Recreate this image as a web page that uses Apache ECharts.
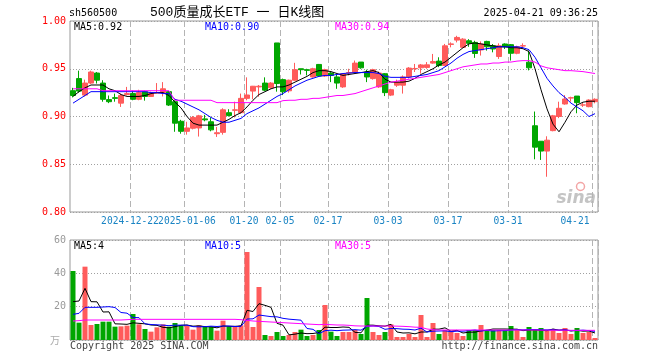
<!DOCTYPE html>
<html><head><meta charset="utf-8">
<script src="https://cdn.jsdelivr.net/npm/echarts/dist/echarts.min.js"></script>
<style>html,body{margin:0;padding:0;background:#fff}#c{width:660px;height:360px}</style>
</head><body><div id="c"></div>
<script>
const dates = ['2024-12-09','2024-12-10','2024-12-11','2024-12-12','2024-12-13','2024-12-16','2024-12-17','2024-12-18','2024-12-19','2024-12-20',
'2024-12-23','2024-12-24','2024-12-25','2024-12-26','2024-12-27','2024-12-30','2024-12-31','2025-01-02','2025-01-03','2025-01-06',
'2025-01-07','2025-01-08','2025-01-09','2025-01-10','2025-01-13','2025-01-14','2025-01-15','2025-01-16','2025-01-17','2025-01-20',
'2025-01-21','2025-01-22','2025-01-23','2025-01-24','2025-01-27','2025-02-05','2025-02-06','2025-02-07','2025-02-10','2025-02-11',
'2025-02-12','2025-02-13','2025-02-14','2025-02-17','2025-02-18','2025-02-19','2025-02-20','2025-02-21','2025-02-24','2025-02-25',
'2025-02-26','2025-02-27','2025-02-28','2025-03-03','2025-03-04','2025-03-05','2025-03-06','2025-03-07','2025-03-10','2025-03-11',
'2025-03-12','2025-03-13','2025-03-14','2025-03-17','2025-03-18','2025-03-19','2025-03-20','2025-03-21','2025-03-24','2025-03-25',
'2025-03-26','2025-03-27','2025-03-28','2025-03-31','2025-04-01','2025-04-02','2025-04-03','2025-04-07','2025-04-08','2025-04-09',
'2025-04-10','2025-04-11','2025-04-14','2025-04-15','2025-04-16','2025-04-17','2025-04-18','2025-04-21'];

const opens = [0.927,0.9397,0.9224,0.935,0.9455,0.935,0.9177,0.9197,0.914,0.923,
0.924,0.918,0.926,0.921,0.9245,0.925,0.926,0.9155,0.895,0.8845,
0.8877,0.888,0.8975,0.8945,0.882,0.8834,0.904,0.9065,0.904,0.919,
0.9266,0.931,0.935,0.930,0.977,0.9386,0.9269,0.938,0.950,0.949,
0.9414,0.9545,0.9424,0.9455,0.9414,0.931,0.9455,0.9459,0.957,0.9466,
0.9397,0.931,0.9448,0.9224,0.9328,0.9328,0.9414,0.950,0.951,0.9514,
0.9559,0.958,0.9534,0.9755,0.980,0.9724,0.9793,0.9776,0.9697,0.9786,
0.9741,0.9628,0.9759,0.9752,0.9662,0.9738,0.9569,0.8903,0.8741,0.8638,
0.8852,0.900,0.9131,0.9193,0.9214,0.912,0.9103,0.9155];
const closes = [0.922,0.9266,0.935,0.9466,0.938,0.918,0.9155,0.919,0.922,0.924,
0.918,0.925,0.921,0.925,0.925,0.929,0.912,0.893,0.8845,0.888,
0.899,0.9007,0.8965,0.886,0.883,0.907,0.901,0.907,0.919,0.9225,
0.9317,0.9317,0.9276,0.935,0.9345,0.9259,0.938,0.949,0.949,0.9483,
0.950,0.9424,0.949,0.943,0.935,0.9448,0.946,0.9559,0.951,0.9414,
0.949,0.9455,0.925,0.928,0.936,0.9414,0.9507,0.9503,0.954,0.9541,
0.9576,0.9534,0.974,0.976,0.9828,0.981,0.9766,0.966,0.9759,0.973,
0.9707,0.9741,0.973,0.9662,0.9731,0.9741,0.951,0.8679,0.8638,0.8752,
0.9007,0.9086,0.9183,0.9197,0.9145,0.9121,0.9172,0.918];
const highs = [0.930,0.948,0.9386,0.948,0.9466,0.938,0.922,0.924,0.924,0.931,
0.927,0.928,0.927,0.926,0.935,0.936,0.9265,0.917,0.8965,0.8945,
0.9005,0.9017,0.9017,0.899,0.889,0.9086,0.9076,0.9155,0.924,0.941,
0.932,0.933,0.941,0.936,0.977,0.9397,0.9386,0.9562,0.950,0.950,
0.951,0.955,0.950,0.9466,0.9448,0.9455,0.950,0.9586,0.957,0.949,
0.950,0.947,0.9455,0.929,0.9386,0.943,0.9517,0.955,0.955,0.957,
0.9655,0.962,0.976,0.9776,0.9845,0.982,0.981,0.9793,0.9786,0.9793,
0.9759,0.9766,0.9766,0.9759,0.9741,0.9766,0.969,0.9052,0.8741,0.8793,
0.9017,0.9155,0.9224,0.9207,0.9214,0.9145,0.918,0.919];
const lows = [0.920,0.925,0.921,0.934,0.9345,0.9155,0.914,0.9155,0.910,0.922,
0.917,0.917,0.9166,0.9205,0.924,0.921,0.911,0.884,0.882,0.881,
0.8865,0.879,0.895,0.8845,0.8786,0.881,0.900,0.899,0.903,0.917,
0.918,0.9207,0.9266,0.929,0.926,0.9224,0.925,0.9373,0.944,0.943,
0.9407,0.9414,0.9414,0.936,0.929,0.930,0.943,0.9448,0.950,0.936,
0.9386,0.930,0.9214,0.9214,0.931,0.924,0.9397,0.9466,0.945,0.950,
0.9552,0.9517,0.9528,0.9724,0.9776,0.9717,0.973,0.9614,0.9638,0.969,
0.9672,0.9603,0.9707,0.9586,0.9652,0.9717,0.9483,0.8552,0.8545,0.8369,
0.8845,0.8983,0.9124,0.9155,0.9034,0.910,0.9097,0.9138];

const volumes = [41.4,10.4,44,9,9.6,11,11,8,8.2,8.6,
15.6,9.4,6.6,5,7.6,9.4,8,10.2,8.6,8.6,
6.2,8.8,8,8,5.6,11.6,8,8,8.8,52.8,
7.8,31.8,3,2.4,4.8,2.4,3,4.8,6.2,2.4,
3,6,21,5,2.4,4.8,4.8,6,3.6,25.2,
4.8,3,4.8,9.4,1.8,1.8,3.6,1.8,15,1.8,
10.2,3.6,6,4.8,4.2,2.4,6,6,9,6,
6,6,6,8.4,6,1.8,7.8,6,7.2,5.4,
6.6,4.2,7.2,3.6,7.2,4.2,4.8,1.2];

const ma5 = [0.921,0.926,0.930,0.933,0.933,0.933,0.929,0.927,0.923,0.921,
0.921,0.921,0.922,0.924,0.925,0.925,0.922,0.915,0.909,0.900,
0.893,0.891,0.891,0.891,0.891,0.894,0.897,0.901,0.904,0.910,
0.917,0.923,0.926,0.929,0.931,0.931,0.933,0.936,0.939,0.942,
0.946,0.948,0.948,0.947,0.945,0.943,0.944,0.945,0.946,0.947,
0.948,0.946,0.939,0.936,0.936,0.936,0.937,0.940,0.944,0.947,
0.950,0.954,0.957,0.962,0.967,0.972,0.976,0.977,0.976,0.975,
0.974,0.973,0.973,0.972,0.972,0.971,0.968,0.950,0.928,0.908,
0.892,0.884,0.894,0.905,0.912,0.915,0.916,0.916];
const ma10 = [0.914,0.918,0.922,0.926,0.926,0.926,0.926,0.926,0.926,0.926,
0.926,0.926,0.926,0.925,0.925,0.924,0.924,0.918,0.916,0.913,
0.910,0.907,0.903,0.899,0.896,0.894,0.894,0.896,0.898,0.903,
0.906,0.909,0.913,0.917,0.921,0.924,0.928,0.932,0.935,0.938,
0.940,0.942,0.943,0.943,0.944,0.945,0.9455,0.946,0.946,0.946,
0.946,0.945,0.942,0.941,0.941,0.941,0.941,0.942,0.943,0.944,
0.946,0.948,0.952,0.956,0.961,0.965,0.968,0.969,0.970,0.971,
0.972,0.973,0.973,0.973,0.973,0.972,0.970,0.962,0.951,0.940,
0.932,0.925,0.920,0.914,0.910,0.906,0.900,0.903];
const ma30 = [0.929,0.929,0.929,0.929,0.929,0.927,0.927,0.927,0.927,0.927,
0.927,0.927,0.927,0.927,0.927,0.927,0.927,0.917,0.917,0.917,
0.917,0.917,0.917,0.917,0.9145,0.9145,0.9145,0.9145,0.9145,0.9145,
0.9145,0.9145,0.9145,0.9145,0.9145,0.9166,0.917,0.917,0.918,0.918,
0.919,0.919,0.920,0.921,0.922,0.922,0.923,0.924,0.926,0.928,
0.930,0.932,0.934,0.936,0.937,0.938,0.939,0.940,0.941,0.942,
0.943,0.944,0.946,0.948,0.950,0.952,0.953,0.954,0.955,0.955,
0.956,0.956,0.957,0.957,0.958,0.9585,0.9585,0.957,0.953,0.951,
0.950,0.949,0.948,0.948,0.9475,0.947,0.946,0.945];

const vma5 = [23,23.4,31,23,22.9,16.8,16.9,9.7,9.6,9.4,
10.3,10.0,9.7,9.0,8.8,7.6,7.3,8.0,8.8,9.0,
8.3,8.5,8.0,7.9,7.3,8.4,8.2,8.2,8.4,17.8,
17.1,21.8,20.8,19.6,10.0,8.9,3.1,3.5,4.2,3.8,
3.9,4.5,7.7,7.5,7.5,7.8,7.6,4.6,4.3,8.9,
8.9,8.5,8.3,9.4,4.8,4.2,4.3,3.7,4.8,4.8,
6.5,6.5,7.3,5.3,5.8,4.2,4.7,4.7,5.5,5.9,
6.6,6.6,6.6,6.5,6.5,5.6,6.0,6.0,5.8,5.6,
6.6,5.9,6.1,5.4,5.8,5.3,5.4,4.2];
const vma10 = [15.4,16,19.6,19.6,19.6,19.8,20,19.5,16.5,16.1,
13.5,13.4,9.7,9.3,9.1,8.9,8.6,8.9,8.9,8.9,
8.0,7.9,8.0,8.3,8.1,8.4,8.4,8.1,8.2,12.6,
12.7,15.0,14.5,14.0,13.9,13.0,12.5,12.2,11.9,6.9,
6.4,3.8,5.6,5.9,5.6,5.9,6.0,6.2,5.9,8.2,
8.4,8.1,6.4,6.9,6.8,6.5,6.4,6.0,7.1,4.8,
5.3,5.4,5.5,5.0,5.3,5.3,5.6,6.0,5.4,5.8,
5.4,5.6,5.6,6.0,6.2,6.1,6.3,6.3,6.1,6.1,
6.1,5.9,6.1,5.6,5.7,5.9,5.6,5.2];
const vma30 = [11.4,11.6,12,12,12,12,12,12,12,12.2,
12.4,12.4,12.4,12.4,12.4,12.4,12.4,12.4,12.4,12.4,
12.4,12.4,12.4,12.4,12.4,12.4,12.4,12.4,12.2,11.8,
11.4,11.2,11,10.8,10.6,10.4,10.2,10,9.8,9.6,
9.4,9.2,9.4,9.2,9.0,9.0,8.8,8.5,8.4,8.4,
8.4,8.4,8.4,8.4,8.3,8.2,8.0,7.7,7.6,6.6,
6.2,6.0,6.0,6.0,6.0,6.0,6.0,6.0,6.0,6.0,
6.0,6.0,6.0,6.0,6.0,6.0,6.0,6.0,5.9,5.9,
5.9,5.9,5.9,5.8,5.8,5.8,5.8,5.8];

const tickIdx = [10,19,29,35,43,53,63,73,87];
const tickText = ['2024-12-22','2025-01-06','01-20','02-05','02-17','03-03','03-17','03-31','04-21'];
const priceTicks = [0.80,0.85,0.90,0.95,1.00];
const volTicks = [0,20,40,60];

const UP = '#ff5b5b', DOWN = '#00a600';
const MONO = '"DejaVu Sans Mono", monospace';

const kData = opens.map((o, i) => [o, closes[i], lows[i], highs[i]]);
const vData = volumes.map((v, i) => ({value: v, itemStyle: {color: closes[i] >= opens[i] ? UP : DOWN}}));

const isTick = (i) => tickIdx.indexOf(i) >= 0;
const chart = echarts.init(document.getElementById('c'), null, {renderer: 'canvas'});

const xCommon = {
  type: 'category', data: dates, boundaryGap: true,
  axisLine: {show: false}, axisTick: {show: false},
  splitLine: {show: true, interval: (i) => isTick(i), lineStyle: {color: '#b4b4b4', type: [6, 3], width: 1}}
};

const labStyle = {color: '#1a84c4', fontFamily: MONO, fontSize: 9.6};

chart.setOption({
  animation: false,
  backgroundColor: '#fff',
  grid: [
    {left: 70, right: 62, top: 21, height: 191, show: true, borderColor: '#999', borderWidth: 1, backgroundColor: 'transparent'},
    {left: 70, right: 62, top: 240, height: 100, show: true, borderColor: '#999', borderWidth: 1, backgroundColor: 'transparent'}
  ],
  xAxis: [
    Object.assign({}, xCommon, {gridIndex: 0,
      axisLabel: {show: true, interval: (i) => i === 0 || isTick(i), margin: 4, hideOverlap: false,
        showMinLabel: true, showMaxLabel: true,
        formatter: (v, i) => {
          const k = tickIdx.indexOf(i);
          if (k < 0) return ' ';
          const tag = k === tickIdx.length - 1 ? 'r' : (k === 1 ? 'n' : 'c');
          return '{' + tag + '|' + tickText[k] + '}';
        },
        rich: {
          c: Object.assign({padding: [0, 6, 0, 0]}, labStyle),
          n: Object.assign({}, labStyle),
          r: Object.assign({padding: [0, 40, 0, 0]}, labStyle)
        },
        color: labStyle.color, fontFamily: MONO, fontSize: 9.6}}),
    Object.assign({}, xCommon, {gridIndex: 1, axisLabel: {show: false}})
  ],
  yAxis: [
    {gridIndex: 0, type: 'value', min: priceTicks[0], max: priceTicks[priceTicks.length - 1], interval: 0.05,
      axisLine: {show: false}, axisTick: {show: false},
      axisLabel: {color: '#ff0000', fontFamily: MONO, fontSize: 10, margin: 4, showMinLabel: true, showMaxLabel: true, formatter: (v) => v.toFixed(2)},
      splitLine: {show: true, lineStyle: {color: '#a0a0a0', type: [1, 2], width: 1}}},
    {gridIndex: 1, type: 'value', min: volTicks[0], max: volTicks[volTicks.length - 1], interval: 20,
      axisLine: {show: false}, axisTick: {show: false},
      axisLabel: {color: '#999', fontFamily: MONO, fontSize: 10, margin: 4, formatter: (v) => v === 0 ? '' : String(v)},
      splitLine: {show: true, lineStyle: {color: '#a0a0a0', type: [1, 2], width: 1}}}
  ],
  series: [
    {type: 'candlestick', xAxisIndex: 0, yAxisIndex: 0, data: kData, barWidth: 5,
      itemStyle: {color: UP, color0: DOWN, borderColor: UP, borderColor0: DOWN, borderWidth: 1}},
    {type: 'line', xAxisIndex: 0, yAxisIndex: 0, data: ma5, symbol: 'none', lineStyle: {color: '#000', width: 1}},
    {type: 'line', xAxisIndex: 0, yAxisIndex: 0, data: ma10, symbol: 'none', lineStyle: {color: '#0000ff', width: 1}},
    {type: 'line', xAxisIndex: 0, yAxisIndex: 0, data: ma30, symbol: 'none', lineStyle: {color: '#ff00ff', width: 1}},
    {type: 'bar', xAxisIndex: 1, yAxisIndex: 1, data: vData, barWidth: 5},
    {type: 'line', xAxisIndex: 1, yAxisIndex: 1, data: vma5, symbol: 'none', lineStyle: {color: '#000', width: 1}},
    {type: 'line', xAxisIndex: 1, yAxisIndex: 1, data: vma10, symbol: 'none', lineStyle: {color: '#0000ff', width: 1}},
    {type: 'line', xAxisIndex: 1, yAxisIndex: 1, data: vma30, symbol: 'none', lineStyle: {color: '#ff00ff', width: 1}}
  ],
  graphic: [
    {type: 'text', left: 69, top: 8, style: {text: 'sh560500', font: '10px ' + MONO, fill: '#000'}},
    {type: 'text', left: 150, top: 6, style: {text: '500质量成长ETF 一 日K线图', font: '13px "Liberation Mono", "Noto Sans CJK SC"', fill: '#000'}},
    {type: 'text', right: 62, top: 8, style: {text: '2025-04-21 09:36:25', font: '10px ' + MONO, fill: '#000'}},
    {type: 'text', left: 74, top: 22, style: {text: 'MA5:0.92', font: '10px ' + MONO, fill: '#000'}},
    {type: 'text', left: 205, top: 22, style: {text: 'MA10:0.90', font: '10px ' + MONO, fill: '#0000ff'}},
    {type: 'text', left: 335, top: 22, style: {text: 'MA30:0.94', font: '10px ' + MONO, fill: '#ff00ff'}},
    {type: 'text', left: 74, top: 241, style: {text: 'MA5:4', font: '10px ' + MONO, fill: '#000'}},
    {type: 'text', left: 205, top: 241, style: {text: 'MA10:5', font: '10px ' + MONO, fill: '#0000ff'}},
    {type: 'text', left: 335, top: 241, style: {text: 'MA30:5', font: '10px ' + MONO, fill: '#ff00ff'}},
    {type: 'text', left: 50, top: 335, style: {text: '万', font: '10px "Noto Sans CJK SC"', fill: '#aaa'}},
    {type: 'text', left: 70, top: 341, style: {text: 'Copyright 2025 SINA.COM', font: '10px ' + MONO, fill: '#444'}},
    {type: 'text', right: 62, top: 341, style: {text: 'http://finance.sina.com.cn', font: '10px ' + MONO, fill: '#444'}},
    {type: 'text', right: 64, top: 190, style: {text: 'sina', font: 'italic bold 17px "DejaVu Sans"', fill: '#c4c4c4'}},
    {type: 'circle', left: 574, top: 180, shape: {r: 4}, style: {fill: 'none', stroke: '#f3a6a6', lineWidth: 1.5}}
  ]
});
</script></body></html>
